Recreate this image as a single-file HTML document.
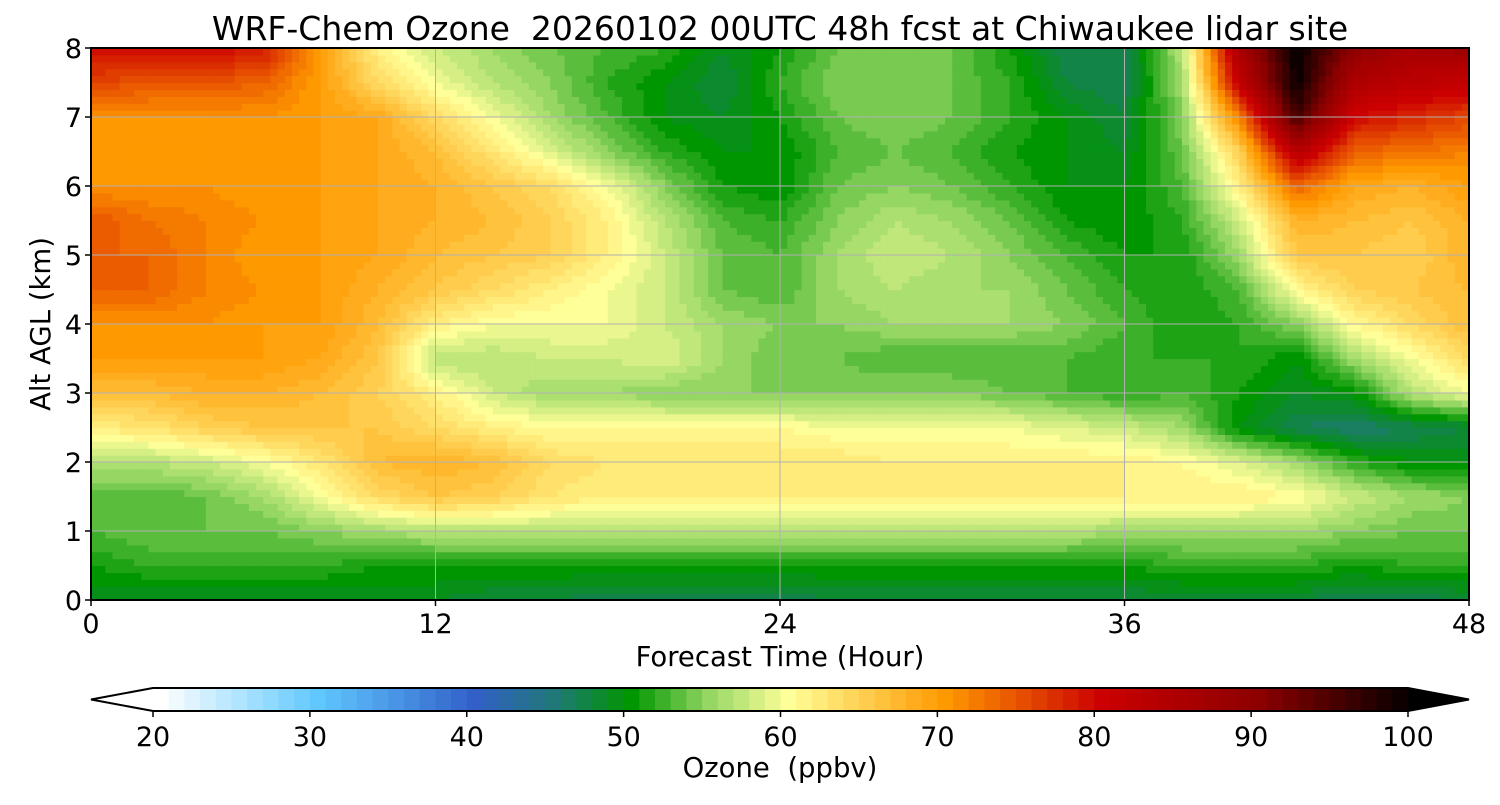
<!DOCTYPE html>
<html><head><meta charset="utf-8"><style>
body{margin:0;background:#fff;}
svg text{font-family:"DejaVu Sans","Liberation Sans",sans-serif;fill:#000;white-space:pre;}
</style></head><body>
<svg id="chart" width="1500" height="800" xmlns="http://www.w3.org/2000/svg">
<text x="780" y="40" font-size="33" text-anchor="middle" xml:space="preserve">WRF-Chem Ozone  20260102 00UTC 48h fcst at Chiwaukee lidar site</text>
<g id="plot"></g>
<g id="grid"></g>
<rect x="91" y="48" width="1378" height="552" fill="none" stroke="#000" stroke-width="2"/>
<g id="axes"></g>
<text x="780" y="666" font-size="27.5" text-anchor="middle">Forecast Time (Hour)</text>
<text transform="translate(50,324) rotate(-90)" font-size="27.5" text-anchor="middle">Alt AGL (km)</text>
<g id="cbar"></g>
<text x="780" y="777" font-size="27.5" text-anchor="middle" xml:space="preserve">Ozone  (ppbv)</text>
</svg>
<script>
const hours = [0,2,4,6,8,10,12,14,16,18,20,22,24,26,28,30,32,34,36,38,40,42,44,46,48];
const altitudes = [0,0.5,1,1.5,2,2.5,3,3.5,4,4.5,5,5.5,6,6.5,7,7.5,8];
const row00 = [49,49,49,49,49,49,49,48,48,47,47,47,47,48,48,48,48,48,48,48,48,48,47,47,48];
const row05 = [51,52,52,52,52,51,51,51,51,51,51,51,51,51,51,51,51,51,51,52,52,52,51,52,52];
const row10 = [53,54,54,54,55,56,57,57,57,57,57,57,57,57,57,57,57,57,56,56,56,56,55,54,54];
const row15 = [53,53,54,56,60,64,66,65,63,62,62,62,62,62,62,62,62,62,62,62,62,61,58,56,55];
const row20 = [57,57,58,60,63,67,68,67,64,63,63,63,63,63,62,62,62,62,62,61,59,56,52,50,50];
const row25 = [62,63,65,66,66,66,64,62,61,61,61,61,61,60,60,60,60,59,58,56,50,47,46,47,48];
const row30 = [67,67,68,68,67,65,62,58,56,56,55,55,55,55,55,55,54,53,52,53,51,49,50,57,60];
const row35 = [70,70,70,70,69,66,57,57,58,58,59,56,54,54,53,53,53,53,52,52,52,50,56,60,64];
const row40 = [71,71,71,70,70,67,62,60,60,60,58,56,55,55,56,56,56,55,53,51,52,55,61,64,67];
const row45 = [74,74,72,71,70,68,66,64,62,60,58,54,53,56,57,56,56,54,52,51,53,61,65,66,67];
const row50 = [74,74,72,70,70,69,67,66,65,62,58,54,53,56,58,57,55,53,51,51,56,66,66,65,68];
const row55 = [75,73,72,71,70,69,68,67,65,62,57,53,52,55,57,56,54,51,50,52,58,68,67,66,68];
const row60 = [71,71,71,70,70,69,68,66,64,60,55,51,50,54,55,54,52,50,50,53,62,74,69,68,70];
const row65 = [70,70,70,70,70,69,67,63,59,55,52,50,50,53,54,53,51,50,49,54,65,84,74,73,72];
const row70 = [71,71,71,71,70,69,64,60,56,53,50,49,51,54,55,54,52,50,48,55,72,96,80,78,76];
const row75 = [76,75,75,74,70,64,60,57,55,52,50,48,52,55,55,54,52,48,47,56,82,100,85,83,82];
const row80 = [80,80,80,79,70,62,58,56,54,53,52,49,51,54,54,54,51,47,47,57,86,100,90,86,88];
const ozone = [row00,row05,row10,row15,row20,row25,row30,row35,row40,row45,row50,row55,row60,row65,row70,row75,row80];
const xTicks = [0,12,24,36,48];
const yTicks = [0,1,2,3,4,5,6,7,8];
const cbarTicks = [20,30,40,50,60,70,80,90,100];

const NS = "http://www.w3.org/2000/svg";
const X0=91, X1=1469, Y0=600, Y1=48;
const xs = h => X0 + (h-0)/(48-0)*(X1-X0);
const ys = k => Y0 - (k-0)/(8-0)*(Y0-Y1);
const anchors = [[20,[255,255,255]],[30,[96,200,255]],[40,[50,96,200]],[45,[32,120,120]],[50,[0,150,0]],[55,[150,215,100]],[60,[255,255,153]],[70,[255,153,0]],[80,[204,0,0]],[90,[140,0,0]],[100,[0,0,0]]];
function cmap(v){
  if(v<=20) return "rgb(255,255,255)";
  if(v>=100) return "rgb(0,0,0)";
  for(let i=0;i<anchors.length-1;i++){
    const [a,ca]=anchors[i],[b,cb]=anchors[i+1];
    if(v>=a&&v<=b){const t=(v-a)/(b-a);
      return "rgb("+ca.map((c,j)=>Math.round(c+(cb[j]-c)*t)).join(",")+")";}
  }
}
function mk(tag,attrs,parent){const e=document.createElementNS(NS,tag);for(const k in attrs)e.setAttribute(k,attrs[k]);parent.appendChild(e);return e;}
function sample(h,k){
  let i=0;while(i<hours.length-2&&h>hours[i+1])i++;
  let j=0;while(j<altitudes.length-2&&k>altitudes[j+1])j++;
  const tx=(h-hours[i])/(hours[i+1]-hours[i]), ty=(k-altitudes[j])/(altitudes[j+1]-altitudes[j]);
  const a=ozone[j][i],b=ozone[j][i+1],c=ozone[j+1][i],d=ozone[j+1][i+1];
  return (a*(1-tx)+b*tx)*(1-ty)+(c*(1-tx)+d*tx)*ty;
}
const plot=document.getElementById("plot");
const dh=0.25, dk=0.1;
for(let h=0;h<48-1e-9;h+=dh){
  for(let k=0;k<8-1e-9;k+=dk){
    const v=Math.floor(sample(h+dh/2,k+dk/2));
    const r=mk("rect",{x:xs(h).toFixed(2),y:ys(k+dk).toFixed(2),width:(xs(h+dh)-xs(h)+0.6).toFixed(2),height:(ys(k)-ys(k+dk)+0.6).toFixed(2),fill:cmap(v)},plot);
    
    
  }
}
const grid=document.getElementById("grid"), axes=document.getElementById("axes");
xTicks.forEach(t=>{
  const l=mk("line",{x1:xs(t),x2:xs(t),y1:Y1,y2:Y0,stroke:"#b0b0b0","stroke-width":1},grid);
  
  
  mk("line",{x1:xs(t),x2:xs(t),y1:Y0,y2:Y0+6,stroke:"#000","stroke-width":1.5},axes);
  const tx=mk("text",{x:xs(t),y:Y0+33,"font-size":27,"text-anchor":"middle"},axes);
  tx.textContent=t;
  
  
});
yTicks.forEach(t=>{
  const l=mk("line",{x1:X0,x2:X1,y1:ys(t),y2:ys(t),stroke:"#b0b0b0","stroke-width":1},grid);
  
  
  mk("line",{x1:X0-6,x2:X0,y1:ys(t),y2:ys(t),stroke:"#000","stroke-width":1.5},axes);
  const tx=mk("text",{x:X0-9,y:ys(t)+10,"font-size":27,"text-anchor":"end"},axes);
  tx.textContent=t;
  
  
});
const cb=document.getElementById("cbar");
const C0=153,C1=1408,CY=688,CH=23;
const cx=v=>C0+(v-20)/80*(C1-C0);
for(let v=20;v<100;v++){
  const r=mk("rect",{x:cx(v).toFixed(2),y:CY,width:(cx(v+1)-cx(v)+0.5).toFixed(2),height:CH,fill:cmap(v)},cb);
  
  
}
mk("polygon",{points:`${C0},${CY} 91,${CY+CH/2} ${C0},${CY+CH}`,fill:"#fff",stroke:"none"},cb);
mk("polygon",{points:`${C1},${CY} 1469,${CY+CH/2} ${C1},${CY+CH}`,fill:"#000"},cb);
mk("polygon",{points:`${C0},${CY} 91,${CY+CH/2} ${C0},${CY+CH} ${C1},${CY+CH} 1469,${CY+CH/2} ${C1},${CY}`,fill:"none",stroke:"#000","stroke-width":2},cb);
cbarTicks.forEach(t=>{
  mk("line",{x1:cx(t),x2:cx(t),y1:CY+CH,y2:CY+CH+6,stroke:"#000","stroke-width":1.5},cb);
  const tx=mk("text",{x:cx(t),y:CY+CH+35,"font-size":27,"text-anchor":"middle"},cb);
  tx.textContent=t;
  
  
});
</script>
</body></html>
